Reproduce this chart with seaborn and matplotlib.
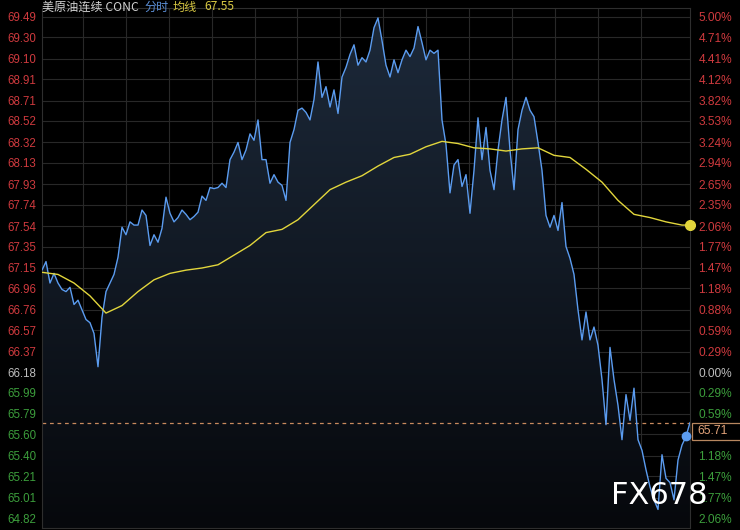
import numpy as np
import pandas as pd
import seaborn as sns
import matplotlib.pyplot as plt
import matplotlib.transforms as mtransforms
from matplotlib.patches import Polygon, Rectangle
from matplotlib.colors import LinearSegmentedColormap

# --- data ---
base_price = 66.18
last_price = 65.71
avg_last = 67.55

prices = [
    67.13, 67.21, 67.01, 67.10, 67.01, 66.95, 66.93, 66.97, 66.81, 66.85,
    66.76, 66.67, 66.64, 66.54, 66.23, 66.69, 66.93, 67.01, 67.09, 67.25,
    67.53, 67.46, 67.58, 67.55, 67.55, 67.69, 67.64, 67.36, 67.46, 67.39,
    67.52, 67.81, 67.66, 67.58, 67.62, 67.69, 67.65, 67.60, 67.63, 67.67,
    67.82, 67.78, 67.90, 67.89, 67.90, 67.94, 67.90, 68.16, 68.23, 68.32,
    68.16, 68.25, 68.40, 68.34, 68.53, 68.16, 68.16, 67.94, 68.02, 67.95,
    67.92, 67.78, 68.32, 68.44, 68.62, 68.64, 68.60, 68.53, 68.72, 69.07,
    68.74, 68.84, 68.65, 68.81, 68.59, 68.93, 69.02, 69.14, 69.23, 69.04,
    69.11, 69.07, 69.18, 69.39, 69.48, 69.27, 69.04, 68.93, 69.09, 68.97,
    69.09, 69.18, 69.12, 69.20, 69.40, 69.25, 69.09, 69.18, 69.15, 69.18,
    68.53, 68.30, 67.85, 68.11, 68.16, 67.91, 68.02, 67.66, 68.06, 68.55,
    68.16, 68.46, 68.06, 67.88, 68.25, 68.53, 68.74, 68.25, 67.88, 68.44,
    68.62, 68.74, 68.62, 68.56, 68.32, 68.06, 67.64, 67.53, 67.64, 67.50,
    67.76, 67.35, 67.24, 67.09, 66.76, 66.48, 66.74, 66.48, 66.60, 66.43,
    66.11, 65.69, 66.41, 66.11, 65.87, 65.55, 65.97, 65.73, 66.03, 65.55,
    65.45, 65.27, 65.11, 64.99, 64.90, 65.41, 65.19, 65.15, 64.99, 65.36,
    65.50, 65.58, 65.71,
]

# average line sampled every 4 minutes (plus the last one)
avg_prices = [
    67.11, 67.09, 67.01, 66.89, 66.73, 66.80, 66.93, 67.04, 67.10, 67.13,
    67.15, 67.18, 67.27, 67.36, 67.48, 67.51, 67.60, 67.74, 67.88, 67.95,
    68.01, 68.10, 68.18, 68.21, 68.28, 68.33, 68.31, 68.27, 68.26, 68.24,
    68.26, 68.27, 68.20, 68.18, 68.07, 67.95, 67.78, 67.65, 67.62, 67.58,
    67.55, 67.55,
]
avg_times = list(range(0, 161, 4)) + [162]

left_ticks = [69.49, 69.30, 69.10, 68.91, 68.71, 68.52, 68.32, 68.13, 67.93,
              67.74, 67.54, 67.35, 67.15, 66.96, 66.76, 66.57, 66.37, 66.18,
              65.99, 65.79, 65.60, 65.40, 65.21, 65.01, 64.82]
right_labels = ['5.00%', '4.71%', '4.41%', '4.12%', '3.82%', '3.53%', '3.24%',
                '2.94%', '2.65%', '2.35%', '2.06%', '1.77%', '1.47%', '1.18%',
                '0.88%', '0.59%', '0.29%', '0.00%', '0.29%', '0.59%', '0.88%',
                '1.18%', '1.47%', '1.77%', '2.06%']

# --- style ---
sns.set_style('dark', {'axes.facecolor': 'black', 'figure.facecolor': 'black'})
plt.rcParams['font.family'] = ['Liberation Sans', 'Noto Sans CJK SC', 'DejaVu Sans']

RED = '#cf3a3e'
GREEN = '#3c9e3c'
GRAY = '#bdbdbd'
BLUE = '#5b9cf0'
YELLOW = '#e2d63c'


def tick_color(v):
    if abs(v - base_price) < 0.001:
        return GRAY
    return RED if v > base_price else GREEN


df = pd.DataFrame({'t': np.arange(len(prices)), 'price': prices})
df_avg = pd.DataFrame({'t': avg_times, 'avg': avg_prices})

ylo, yhi = 64.727, 69.573
n = len(prices)

fig = plt.figure(figsize=(7.4, 5.3), dpi=100)
ax = fig.add_axes([42 / 740, 2 / 530, 648 / 740, 520 / 530])
ax.set_facecolor('black')
ax.set_xlim(0, n - 1)
ax.set_ylim(ylo, yhi)

# grid
ax.set_yticks(left_ticks)
ax.grid(False)
for v in left_ticks:
    ax.axhline(v, color='#282828', lw=0.8, zorder=0.5)
for k in range(1, 15):
    px = 40 + 42.9 * k
    ax.axvline((px - 42) / 4, color='#282828', lw=0.8, zorder=0.5)

# gradient fill below price
verts = list(zip(df['t'], df['price'])) + [(n - 1, ylo), (0, ylo)]
poly = Polygon(verts, closed=True, facecolor='none', edgecolor='none')
ax.add_patch(poly)
cmap = LinearSegmentedColormap.from_list('fill', ['#06080c', '#1d2a3b'])
grad = np.linspace(0, 1, 256).reshape(-1, 1)
im = ax.imshow(grad, extent=[0, n - 1, ylo, yhi], aspect='auto', cmap=cmap,
               origin='lower', zorder=1)
im.set_clip_path(poly)

sns.lineplot(data=df, x='t', y='price', ax=ax, color=BLUE, linewidth=1.0, zorder=3)
sns.lineplot(data=df_avg, x='t', y='avg', ax=ax, color=YELLOW, linewidth=1.0, zorder=4)

ax.axhline(last_price, color='#c98a5e', lw=0.9, ls=(0, (3, 3)), zorder=2)
ax.plot([n - 1], [avg_last], 'o', color=YELLOW, ms=7, zorder=5, clip_on=False)
ax.plot([n - 2], [prices[-2]], 'o', color=BLUE, ms=6, zorder=5, clip_on=False)

ax.set_xlabel('')
ax.set_ylabel('')
ax.set_xticks([])
ax.set_yticklabels([f'{v:.2f}' for v in left_ticks])
ax.tick_params(axis='y', length=0, pad=4, labelsize=8.3)
for lab, v in zip(ax.get_yticklabels(), left_ticks):
    lab.set_color(tick_color(v))
for s in ax.spines.values():
    s.set_color('#2e2e2e')
    s.set_linewidth(0.8)

# right axis: percentage labels; the one under the last-price box is hidden
box_h = 0.165
shown = [lab if not (last_price - box_h < v < last_price) else ''
         for lab, v in zip(right_labels, left_ticks)]
ax2 = ax.twinx()
ax2.set_ylim(ylo, yhi)
ax2.set_yticks(left_ticks)
ax2.set_yticklabels(shown)
ax2.tick_params(axis='y', length=0, pad=6, labelsize=8.6)
for lab, v in zip(ax2.get_yticklabels(), left_ticks):
    lab.set_color(tick_color(v))
ax2.grid(False)
for s in ax2.spines.values():
    s.set_visible(False)

trans = mtransforms.blended_transform_factory(ax2.transAxes, ax2.transData)
ax2.add_patch(Rectangle((1.003, last_price - box_h), 0.08, box_h, transform=trans,
                        facecolor='black', edgecolor='#b8875f', lw=0.9,
                        clip_on=False, zorder=9))
ax2.text(1.011, last_price - box_h / 2, f'{last_price:.2f}', transform=trans,
         ha='left', va='center', fontsize=8.8, color='#e2a37a', zorder=10,
         clip_on=False)

# title
ty = 1 - 7 / 530
cjk = ['Noto Sans CJK SC', 'DejaVu Sans']
fig.text(42 / 740, ty, '美原油连续 CONC', color='#d2d2d2', fontsize=8.7, va='center', family=cjk)
fig.text(144 / 740, ty, '分时', color='#5c8fd6', fontsize=8.7, va='center', family=cjk)
fig.text(173 / 740, ty, '均线', color='#d8c843', fontsize=8.7, va='center', family=cjk)
fig.text(204 / 740, ty, f'{avg_last:.2f}', color='#d8c843', fontsize=8.7, va='center', family=cjk)

# watermark
fig.text(611 / 740, 1 - 495 / 530, 'FX678', color='white', fontsize=22, va='center',
         family='DejaVu Sans')

fig.savefig('out.png', dpi=100, facecolor='black')
